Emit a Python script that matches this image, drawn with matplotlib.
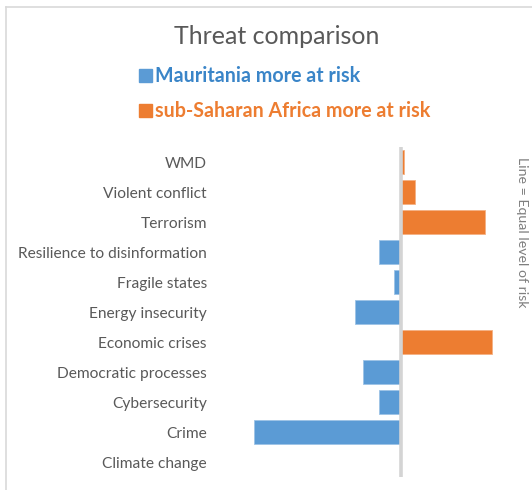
import matplotlib
import matplotlib.pyplot as plt
from matplotlib.patches import Rectangle
from matplotlib.lines import Line2D

matplotlib.use('Agg')

W, H = 532, 490

threats = ['WMD', 'Violent conflict', 'Terrorism', 'Resilience to disinformation',
           'Fragile states', 'Energy insecurity', 'Economic crises',
           'Democratic processes', 'Cybersecurity', 'Crime', 'Climate change']
# difference in risk score: negative = Mauritania more at risk
diff = [0.3, 1.4, 8.4, -2.2, -0.7, -4.6, 9.1, -3.8, -2.2, -14.7, 0.0]

blue = '#5b9bd5'
orange = '#ed7d31'
grey_txt = '#595959'

plt.rcParams['font.family'] = ['Lato', 'DejaVu Sans']

fig = plt.figure(figsize=(W / 100, H / 100), dpi=100)

# pixel box -> figure fraction
def box(x0, y0, x1, y1):
    return [x0 / W, 1 - y1 / H, (x1 - x0) / W, (y1 - y0) / H]

ax = fig.add_axes(box(215, 147, 510, 477))
ypos = list(range(len(threats)))
colors = [orange if v > 0 else blue for v in diff]
edges = ['#f4b183' if v > 0 else '#9dc3e6' for v in diff]
ax.barh(ypos, diff, height=0.78, color=colors, edgecolor=edges, linewidth=0.6, zorder=2)
ax.axvline(0, color='#d4d4d4', lw=2.6, zorder=3)

ax.set_xlim(-18.6, 10.9)
ax.set_ylim(len(threats) - 0.5, -0.5)
ax.set_yticks(ypos)
ax.set_yticklabels(threats, fontsize=11.2, color=grey_txt)
ax.tick_params(axis='y', length=0, pad=5.8)
ax.set_xticks([])
for s in ax.spines.values():
    s.set_visible(False)

# outer chart frame
fig.add_artist(Line2D([5.5 / W, 5.5 / W], [0, 1 - 7.5 / H], color='#d9d9d9', lw=1.2))
fig.add_artist(Line2D([5.5 / W, 1], [1 - 7.5 / H, 1 - 7.5 / H], color='#d9d9d9', lw=1.2))

fig.text(277 / W, 1 - 37 / H, 'Threat comparison', fontsize=18, color=grey_txt,
         ha='center', va='center')

# legend
for y, col, txt in [(75.5, blue, 'Mauritania more at risk'),
                    (111, orange, 'sub-Saharan Africa more at risk')]:
    fig.add_artist(Rectangle((139 / W, 1 - (y + 6.5) / H), 13 / W, 13 / H,
                             transform=fig.transFigure, color=col))
    fig.text(155 / W, 1 - y / H, txt, fontsize=14.1, fontweight='bold',
             color='#3a85c8' if col == blue else col, ha='left', va='center')

fig.text(522 / W, 1 - 232 / H, 'Line = Equal level of risk', fontsize=10.2,
         color='#7f7f7f', rotation=-90, ha='center', va='center')

fig.savefig('out.png', dpi=100)
